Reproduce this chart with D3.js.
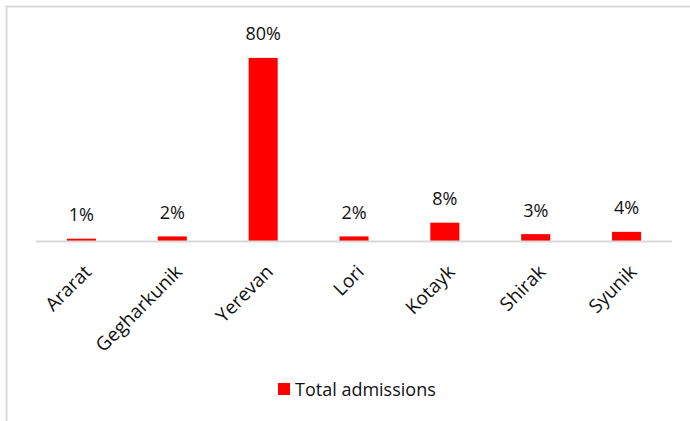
<!DOCTYPE html>
<html>
<head>
<meta charset="utf-8">
<script src="https://cdn.jsdelivr.net/npm/d3@7"></script>
<style>
  html, body { margin: 0; padding: 0; background: #fff; }
  svg { display: block; }
  text { font-family: "Open Sans", "Noto Sans", sans-serif; fill: #111; }
</style>
</head>
<body>
<div id="chart"></div>
<script>
// Share of total admissions by region
const regions = ["Ararat", "Gegharkunik", "Yerevan", "Lori", "Kotayk", "Shirak", "Syunik"];
const admissions = [0.01, 0.02, 0.80, 0.02, 0.08, 0.03, 0.04];
const seriesName = "Total admissions";

const width = 690, height = 421;
const barColor = "#ff0000";

const svg = d3.select("#chart").append("svg")
  .attr("width", width)
  .attr("height", height);

// chart frame
svg.append("rect")
  .attr("x", 6.5).attr("y", 6.5)
  .attr("width", width + 10).attr("height", height + 10)
  .attr("fill", "none")
  .attr("stroke", "#d9d9d9")
  .attr("stroke-width", 2);

const x = d3.scaleBand()
  .domain(regions)
  .range([36, 672])
  .paddingInner(0.68)
  .paddingOuter(0.34);

const y = d3.scaleLinear()
  .domain([0, 0.9])
  .range([241, 35]);

const data = regions.map((r, i) => ({ region: r, value: admissions[i] }));

// bars
svg.append("g").selectAll("rect")
  .data(data)
  .join("rect")
  .attr("x", d => x(d.region))
  .attr("y", d => y(d.value))
  .attr("width", x.bandwidth())
  .attr("height", d => y(0) - y(d.value))
  .attr("fill", barColor);

// value labels
svg.append("g").selectAll("text")
  .data(data)
  .join("text")
  .attr("x", d => x(d.region) + x.bandwidth() / 2)
  .attr("y", d => y(d.value) - 17.5)
  .attr("text-anchor", "middle")
  .attr("font-size", 18)
  .text(d => d3.format(".0%")(d.value));

// category axis
const xAxis = svg.append("g")
  .attr("transform", `translate(0,${y(0)})`)
  .call(d3.axisBottom(x).tickSize(0).tickSizeOuter(0));
xAxis.select(".domain")
  .attr("stroke", "#d9d9d9")
  .attr("stroke-width", 2)
  .attr("d", "M36,0.5H672");
xAxis.selectAll(".tick text")
  .attr("font-size", 19)
  .attr("font-family", "\"Open Sans\", sans-serif")
  .attr("fill", "#111")
  .attr("text-anchor", "end")
  .attr("dx", 0)
  .attr("dy", 0)
  .attr("transform", "translate(9,30) rotate(-45)");

// legend
const legend = svg.append("g").attr("transform", "translate(278,383)");
legend.append("rect")
  .attr("width", 12).attr("height", 12)
  .attr("fill", barColor);
legend.append("text")
  .attr("x", 17).attr("y", 12.5)
  .attr("font-size", 18)
  .text(seriesName);
</script>
</body>
</html>
